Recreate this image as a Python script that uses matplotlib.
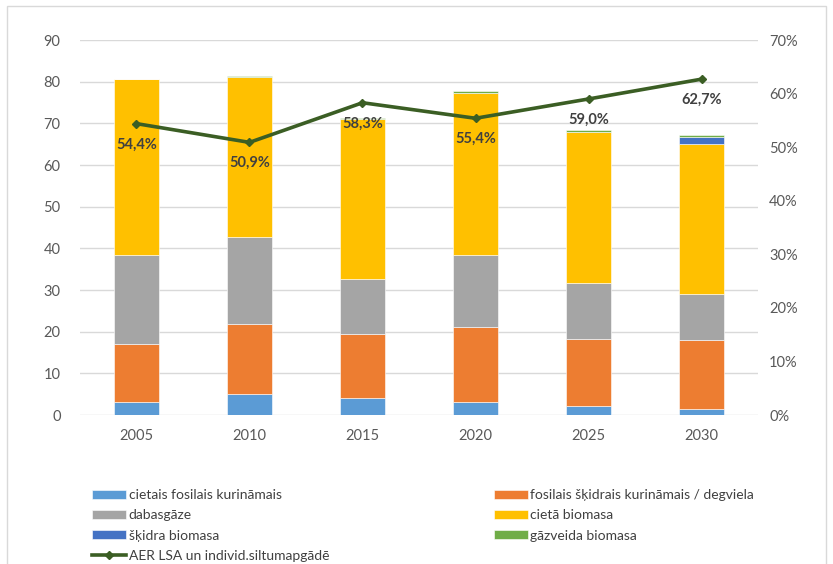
import matplotlib
matplotlib.use("Agg")
import matplotlib.pyplot as plt
import numpy as np
from matplotlib.patches import Rectangle

plt.rcParams['font.family'] = ['Lato', 'DejaVu Sans']

years = ["2005", "2010", "2015", "2020", "2025", "2030"]

# energy sources, stacked bottom to top
cietais_fosilais = [3.2, 5.0, 4.0, 3.2, 2.2, 1.4]
fosilais_skidrais = [13.9, 16.8, 15.5, 17.9, 16.0, 16.6]
dabasgaze = [21.2, 20.9, 13.1, 17.2, 13.6, 11.0]
ciets_biomasa = [42.3, 38.5, 38.5, 39.1, 36.2, 36.1]
skidra_biomasa = [0.0, 0.0, 0.0, 0.0, 0.0, 1.7]
gazveida_biomasa = [0.1, 0.1, 0.1, 0.4, 0.3, 0.3]

# share of renewables, %
aer_share = [54.4, 50.9, 58.3, 55.4, 59.0, 62.7]

series = [
    ("cietais fosilais kurināmais", cietais_fosilais, "#5b9bd5"),
    ("fosilais šķidrais kurināmais / degviela", fosilais_skidrais, "#ed7d31"),
    ("dabasgāze", dabasgaze, "#a5a5a5"),
    ("cietā biomasa", ciets_biomasa, "#ffc000"),
    ("šķidra biomasa", skidra_biomasa, "#4472c4"),
    ("gāzveida biomasa", gazveida_biomasa, "#70ad47"),
]

fig = plt.figure(figsize=(8.33, 5.64), dpi=100)
ax = fig.add_axes([0.096, 0.264, 0.814, 0.665])

x = np.arange(len(years))
bottom = np.zeros(len(years))
handles = {}
for name, vals, color in series:
    vals = np.array(vals)
    b = ax.bar(x, vals, 0.4, bottom=bottom, color=color, label=name,
               edgecolor="white", linewidth=0.4, zorder=2)
    handles[name] = b
    bottom += vals

ax.set_ylim(0, 90)
ax.set_yticks(range(0, 91, 10))
ax.set_xlim(-0.5, len(years) - 0.5)
ax.set_xticks(x)
ax.set_xticklabels(years)
ax.grid(axis="y", color="#d9d9d9", linewidth=1, zorder=0)
for s in ax.spines.values():
    s.set_visible(False)
ax.tick_params(length=0, labelsize=10.5, colors="#595959", pad=10)
ax.tick_params(axis="y", pad=14)

ax2 = ax.twinx()
ax2.set_ylim(0, 70)
ax2.set_yticks(range(0, 71, 10))
ax2.set_yticklabels([f"{v}%" for v in range(0, 71, 10)])
for s in ax2.spines.values():
    s.set_visible(False)
ax2.tick_params(length=0, labelsize=10.5, colors="#595959", pad=8)

line_color = "#3b5e24"
ln, = ax2.plot(x, aer_share, color=line_color, linewidth=2.6, marker="D",
               markersize=4.5, zorder=5, label="AER LSA un individ.siltumapgādē")
for xi, v in zip(x, aer_share):
    ax2.annotate(f"{v:.1f}%".replace(".", ","), (xi, v), xytext=(0, -15),
                 textcoords="offset points", ha="center", va="center",
                 fontsize=10.5, fontweight="bold", color="#404040", zorder=6)

# legend: first column holds three bars and the line, second the rest
order = ["cietais fosilais kurināmais", "dabasgāze", "šķidra biomasa"]
order2 = ["fosilais šķidrais kurināmais / degviela", "cietā biomasa", "gāzveida biomasa"]
leg_handles = [handles[n] for n in order] + [ln] + [handles[n] for n in order2]
leg_labels = order + [ln.get_label()] + order2
fig.legend(leg_handles, leg_labels, ncol=2, loc="upper left",
           bbox_to_anchor=(0.111, 0.133), frameon=False, fontsize=10,
           labelcolor="#404040", handlelength=2.4, handleheight=0.6,
           handletextpad=0.2, columnspacing=11.9, labelspacing=0.6,
           borderaxespad=0, borderpad=0)

fig.patches.append(Rectangle((0.008, -0.01), 0.984, 1.0, transform=fig.transFigure,
                             fill=False, edgecolor="#d9d9d9", linewidth=1))

fig.savefig("out.png", dpi=100)
